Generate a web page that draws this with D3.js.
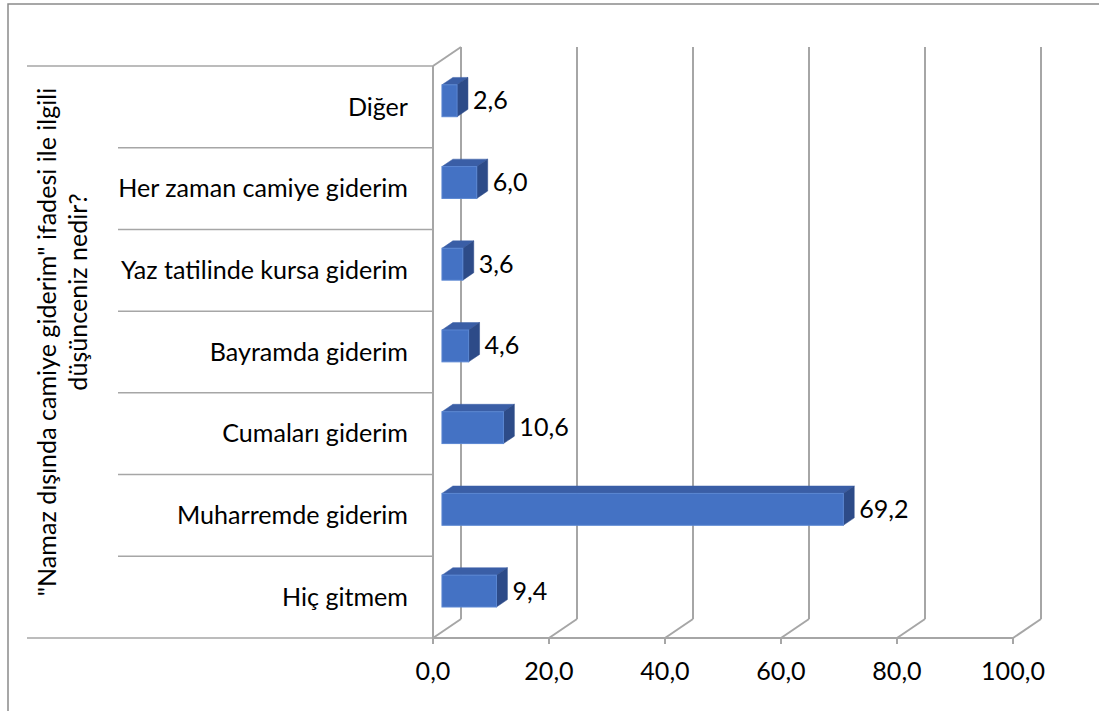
<!DOCTYPE html>
<html>
<head>
<meta charset="utf-8">
<script src="https://cdn.jsdelivr.net/npm/d3@7"></script>
<style>
  html, body { margin: 0; padding: 0; background: #fff; }
  svg { display: block; }
  text { font-family: Lato, "Open Sans", sans-serif; fill: #000; }
</style>
</head>
<body>
<svg id="chart" width="1099" height="711"></svg>
<script>
const categories = [
  "Diğer",
  "Her zaman camiye giderim",
  "Yaz tatilinde kursa giderim",
  "Bayramda giderim",
  "Cumaları giderim",
  "Muharremde giderim",
  "Hiç gitmem"
];
const values = [2.6, 6.0, 3.6, 4.6, 10.6, 69.2, 9.4];
const tickValues = [0, 20, 40, 60, 80, 100];
const titleLines = ["\"Namaz dışında camiye giderim\" ifadesi ile ilgili", "düşünceniz nedir?"];

const svg = d3.select("#chart");
const fmt = v => d3.format(".1f")(v).replace(".", ",");

const W = 1099, H = 711;
const x = d3.scaleLinear().domain([0, 100]).range([433, 1013]);
const y = d3.scaleBand().domain(categories).range([66, 638]).paddingInner(0.61).paddingOuter(0.305);
const step = y.step();
const DX = 28, DY = -19;           // full depth offset
const d1 = 0.32, d2 = 0.71;        // bar depth range
const gridColor = "#a6a6a6";

// outer border (cropped)
svg.append("path").attr("d", `M8,${H} L8,4 L${W},4`).attr("fill", "none")
  .attr("stroke", "#8a8a8a").attr("stroke-width", 1.5);

// font fitting
const probe = svg.append("text").attr("font-size", 26).text("Her zaman camiye giderim");
const fs = 26 * 290 / probe.node().getComputedTextLength();
probe.remove();

const grid = svg.append("g").attr("stroke", gridColor).attr("stroke-width", 2).attr("fill", "none");
// back wall verticals
grid.selectAll("line.back").data(tickValues).join("line")
  .attr("x1", d => x(d) + DX).attr("x2", d => x(d) + DX)
  .attr("y1", 66 + DY).attr("y2", 638 + DY);
// floor diagonals
grid.selectAll("line.floor").data(tickValues).join("line")
  .attr("x1", d => x(d)).attr("x2", d => x(d) + DX)
  .attr("y1", 638).attr("y2", 638 + DY);
// left wall
grid.append("line").attr("x1", x(0)).attr("x2", x(0)).attr("y1", 66).attr("y2", 638);
grid.append("line").attr("x1", x(0)).attr("x2", x(0) + DX).attr("y1", 66).attr("y2", 66 + DY);
// floor front
grid.append("line").attr("x1", x(0)).attr("x2", x(100)).attr("y1", 638).attr("y2", 638);
// ticks
grid.selectAll("line.tick").data(tickValues).join("line")
  .attr("x1", d => x(d)).attr("x2", d => x(d)).attr("y1", 638).attr("y2", 644);

// category separators
const sepYs = d3.range(categories.length + 1).map(i => 66 + i * (572 / categories.length));
svg.append("g").attr("stroke", gridColor).attr("stroke-width", 1.5)
  .selectAll("line").data(sepYs).join("line")
  .attr("x1", (d, i) => (i === 0 || i === categories.length) ? 27 : 118)
  .attr("x2", x(0)).attr("y1", d => d).attr("y2", d => d);

// bars
const bars = svg.append("g");
const data = categories.map((c, i) => ({ c, v: values[i] }));
const fx = DX * d1, fy = DY * d1;
const ddx = DX * (d2 - d1), ddy = DY * (d2 - d1);
data.forEach(d => {
  const xl = x(0) + fx, xr = x(d.v) + fx;
  const yt = y(d.c) + fy, yb = yt + y.bandwidth();
  const g = bars.append("g");
  g.append("polygon").attr("points", [[xl, yt], [xl + ddx, yt + ddy], [xr + ddx, yt + ddy], [xr, yt]].join(" "))
    .attr("fill", "#3a5ea6").attr("stroke", "#3a5ea6").attr("stroke-width", 0.5);
  g.append("polygon").attr("points", [[xr, yt], [xr + ddx, yt + ddy], [xr + ddx, yb + ddy], [xr, yb]].join(" "))
    .attr("fill", "#2d4b88").attr("stroke", "#2d4b88").attr("stroke-width", 0.5);
  g.append("rect").attr("x", xl).attr("y", yt).attr("width", xr - xl).attr("height", yb - yt)
    .attr("fill", "#4472c4").attr("stroke", "#5a86d2").attr("stroke-width", 1);
  svg.append("text").attr("x", xr + ddx + 5).attr("y", yt + y.bandwidth() / 2 + fs * 0.34)
    .attr("font-size", fs).text(fmt(d.v));
});

// category labels
svg.append("g").selectAll("text").data(categories).join("text")
  .attr("x", 408).attr("y", d => y(d) + y.bandwidth() / 2 + fs * 0.35)
  .attr("text-anchor", "end").attr("font-size", fs).text(d => d);

// x tick labels
svg.append("g").selectAll("text").data(tickValues).join("text")
  .attr("x", d => x(d)).attr("y", 680).attr("text-anchor", "middle")
  .attr("font-size", fs).text(d => fmt(d));

// y title
const titleCenters = [[56, 342], [87, 292]];
titleLines.forEach((t, i) => {
  svg.append("text")
    .attr("transform", `translate(${titleCenters[i][0]},${titleCenters[i][1]}) rotate(-90)`)
    .attr("text-anchor", "middle").attr("font-size", fs).text(t);
});
</script>
</body>
</html>
